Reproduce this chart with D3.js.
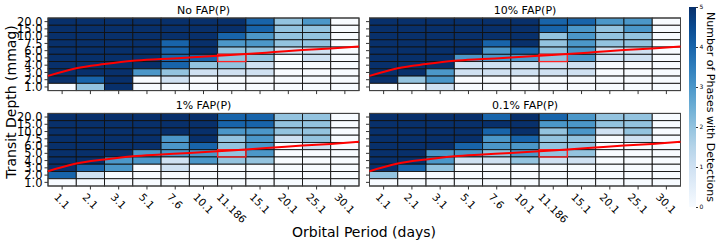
<!DOCTYPE html>
<html>
<head>
<meta charset="utf-8">
<script src="https://cdn.jsdelivr.net/npm/d3@7"></script>
<style>
  body { margin: 0; background: #ffffff; }
  text { font-family: "DejaVu Sans", sans-serif; fill: #000; }
</style>
</head>
<body>
<svg id="chart" width="720" height="243"></svg>
<script>
// ---- data (rows from top 20.0 down to 1.0, columns by period) ----
var periods = ["1.1", "2.1", "3.1", "5.1", "7.6", "10.1", "11.186", "15.1", "20.1", "25.1", "30.1"];
var depths  = ["20.0", "15.0", "10.0", "7.5", "6.0", "5.0", "4.0", "3.0", "2.0", "1.0"];
var titles  = ["No FAP(P)", "10% FAP(P)", "1% FAP(P)", "0.1% FAP(P)"];

var noFap = [
  [5,5,5,5,5,5,5,4,2,3,0],
  [5,5,5,5,5,5,5,4,2,2,0],
  [5,5,5,5,5,5,4,3,2,2,0],
  [5,5,5,5,4,5,3,3,2,2,0],
  [5,5,5,5,4,5,2,2,1,1,0],
  [5,5,5,5,4,4,2,2,0,1,0],
  [5,5,5,5,4,2,2,1,0,0,0],
  [5,5,5,3,2,1,1,1,0,0,0],
  [5,4,5,0,1,0,0,0,0,0,0],
  [0,2,5,0,0,0,0,0,0,0,0]
];
var fap10 = [
  [5,5,5,5,5,5,4,4,3,3,0],
  [5,5,5,5,5,5,4,3,2,3,0],
  [5,5,5,5,5,5,2,3,2,2,0],
  [5,5,5,5,4,5,2,3,2,2,0],
  [5,5,5,5,3,4,2,3,1,1,0],
  [5,5,5,3,3,3,2,3,1,1,0],
  [5,5,5,1,1,1,1,1,0,0,0],
  [5,5,3,1,1,1,1,1,0,0,0],
  [5,2,3,0,0,0,0,0,0,0,0],
  [0,0,1,0,0,0,0,0,0,0,0]
];
var fap1 = [
  [5,5,5,5,5,5,4,4,2,2,0],
  [5,5,5,5,5,5,4,4,2,2,0],
  [5,5,5,5,5,5,3,3,2,2,0],
  [5,5,5,5,3,5,2,3,1,2,0],
  [5,5,5,5,3,4,2,3,0,1,0],
  [5,5,5,3,3,3,2,3,0,0,0],
  [5,5,3,3,1,3,2,2,0,0,0],
  [5,4,3,0,1,0,0,0,0,0,0],
  [4,1,0,0,0,0,0,0,0,0,0],
  [0,0,0,0,0,0,0,0,0,0,0]
];
var fap01 = [
  [5,5,5,5,4,5,4,3,2,2,0],
  [5,5,5,5,5,5,3,3,2,2,0],
  [5,5,5,5,4,5,2,3,1,2,0],
  [5,5,5,5,3,4,2,2,0,1,0],
  [5,5,5,4,3,3,2,2,0,0,0],
  [5,5,3,3,2,3,2,2,0,0,0],
  [5,5,3,1,1,2,1,1,0,0,0],
  [5,4,2,0,0,0,0,0,0,0,0],
  [2,0,0,0,0,0,0,0,0,0,0],
  [0,0,0,0,0,0,0,0,0,0,0]
];

// red threshold curve, in cell units (x: columns from left, y: rows from bottom)
var lineCol = [0, 1, 2, 3, 4, 5, 6, 7, 8, 9, 10, 11];
var lineRow = [2.03, 3.09, 3.65, 4.1, 4.34, 4.56, 4.8, 5.03, 5.3, 5.58, 5.8, 6.08];
var markPeriod = "11.186";
var markDepth  = "5.0";
var colorTicks = [0, 1, 2, 3, 4, 5];

// ---- layout ----
var svg = d3.select("#chart");
var panelW = 311, panelH = 72.6;
var panels = [
  {title: titles[0], data: noFap, x: 48,    y: 18,    left: true,  bottom: false},
  {title: titles[1], data: fap10, x: 369.5, y: 18,    left: false, bottom: false},
  {title: titles[2], data: fap1,  x: 48,    y: 113.4, left: true,  bottom: true},
  {title: titles[3], data: fap01, x: 369.5, y: 113.4, left: false, bottom: true}
];
var color = d3.scaleSequential(d3.interpolateBlues).domain([0, 5]);

panels.forEach(function(p){
  var xs = d3.scaleBand().domain(periods).range([p.x, p.x + panelW]);
  var ys = d3.scaleBand().domain(depths).range([p.y, p.y + panelH]);
  // continuous scales for the curve, in cell units
  var xl = d3.scaleLinear().domain([0, periods.length]).range([p.x, p.x + panelW]);
  var yl = d3.scaleLinear().domain([0, depths.length]).range([p.y + panelH, p.y]);

  var g = svg.append("g").attr("class", "panel");

  // cells
  var cells = [];
  p.data.forEach(function(row, i){
    row.forEach(function(v, j){
      cells.push({period: periods[j], depth: depths[i], value: v});
    });
  });
  g.selectAll("rect.cell").data(cells).enter().append("rect")
    .attr("class", "cell")
    .attr("x", function(d){ return xs(d.period); })
    .attr("y", function(d){ return ys(d.depth); })
    .attr("width", xs.bandwidth())
    .attr("height", ys.bandwidth())
    .style("fill", function(d){ return color(d.value); })
    .style("stroke", "#111")
    .style("stroke-width", 0.9);

  // frame
  g.append("rect")
    .attr("x", p.x).attr("y", p.y)
    .attr("width", panelW).attr("height", panelH)
    .style("fill", "none").style("stroke", "#444").style("stroke-width", 1);

  // highlighted cell
  g.append("rect")
    .attr("x", xs(markPeriod)).attr("y", ys(markDepth))
    .attr("width", xs.bandwidth()).attr("height", ys.bandwidth())
    .style("fill", "none").style("stroke", "#ff2020").style("stroke-width", 1.3);

  // threshold curve
  var line = d3.line()
    .x(function(d){ return xl(d[0]); })
    .y(function(d){ return yl(d[1]); })
    .curve(d3.curveMonotoneX);
  g.append("path")
    .datum(d3.zip(lineCol, lineRow))
    .attr("d", line)
    .style("fill", "none").style("stroke", "#ff0000").style("stroke-width", 2);

  // axes
  var yAxis = d3.axisLeft(ys).tickSize(3.5).tickPadding(2);
  if(!p.left) yAxis.tickFormat("");
  var ya = g.append("g").attr("transform", "translate(" + p.x + ",0)").call(yAxis);
  ya.select(".domain").remove();
  ya.selectAll("line").style("stroke", "#333");
  ya.selectAll("text").style("font-size", "11.5px").attr("dy", "0.36em");

  var xAxis = d3.axisBottom(xs).tickSize(3.5).tickPadding(2);
  if(!p.bottom) xAxis.tickFormat("");
  var xa = g.append("g").attr("transform", "translate(0," + (p.y + panelH) + ")").call(xAxis);
  xa.select(".domain").remove();
  xa.selectAll("line").style("stroke", "#333");
  if(p.bottom){
    xa.selectAll("text")
      .style("font-size", "10.5px")
      .attr("text-anchor", "middle")
      .attr("dy", null)
      .attr("dominant-baseline", "central")
      .attr("y", null)
      .attr("transform", function(){
        var w = this.getComputedTextLength();
        var off = 5.5 + (w + 10) * 0.7071 / 2;
        return "translate(0," + off + ") rotate(45)";
      });
  }

  // title
  g.append("text")
    .attr("x", p.x + panelW / 2)
    .attr("y", p.y - 4)
    .attr("text-anchor", "middle")
    .style("font-size", "11px")
    .text(p.title);
});

// axis labels
svg.append("text")
  .attr("transform", "translate(16,102) rotate(-90)")
  .attr("text-anchor", "middle")
  .style("font-size", "14px")
  .text("Transit Depth (mmag)");
svg.append("text")
  .attr("x", 364).attr("y", 237)
  .attr("text-anchor", "middle")
  .style("font-size", "14px")
  .text("Orbital Period (days)");

// ---- colorbar ----
var cbX = 689, cbW = 7, cbTop = 7, cbBottom = 207;
var defs = svg.append("defs");
var grad = defs.append("linearGradient").attr("id", "cbGrad")
  .attr("x1", 0).attr("y1", 1).attr("x2", 0).attr("y2", 0);
d3.range(0, 1.0001, 0.1).forEach(function(t){
  grad.append("stop").attr("offset", t).attr("stop-color", d3.interpolateBlues(t));
});
svg.append("rect")
  .attr("x", cbX).attr("y", cbTop)
  .attr("width", cbW).attr("height", cbBottom - cbTop)
  .style("fill", "url(#cbGrad)");
var cbScale = d3.scaleLinear().domain([0, 5]).range([cbBottom, cbTop]);
var cbAxis = svg.append("g")
  .attr("transform", "translate(" + (cbX + cbW) + ",0)")
  .call(d3.axisRight(cbScale).tickValues(colorTicks).tickFormat(d3.format("d")).tickSize(2).tickPadding(1.5));
cbAxis.select(".domain").remove();
cbAxis.selectAll("line").style("stroke", "#333");
cbAxis.selectAll("text").style("font-size", "6px");
svg.append("text")
  .attr("transform", "translate(706.5," + ((cbTop + cbBottom) / 2) + ") rotate(90)")
  .attr("text-anchor", "middle")
  .style("font-size", "11px")
  .text("Number of Phases with Detections");
</script>
</body>
</html>
